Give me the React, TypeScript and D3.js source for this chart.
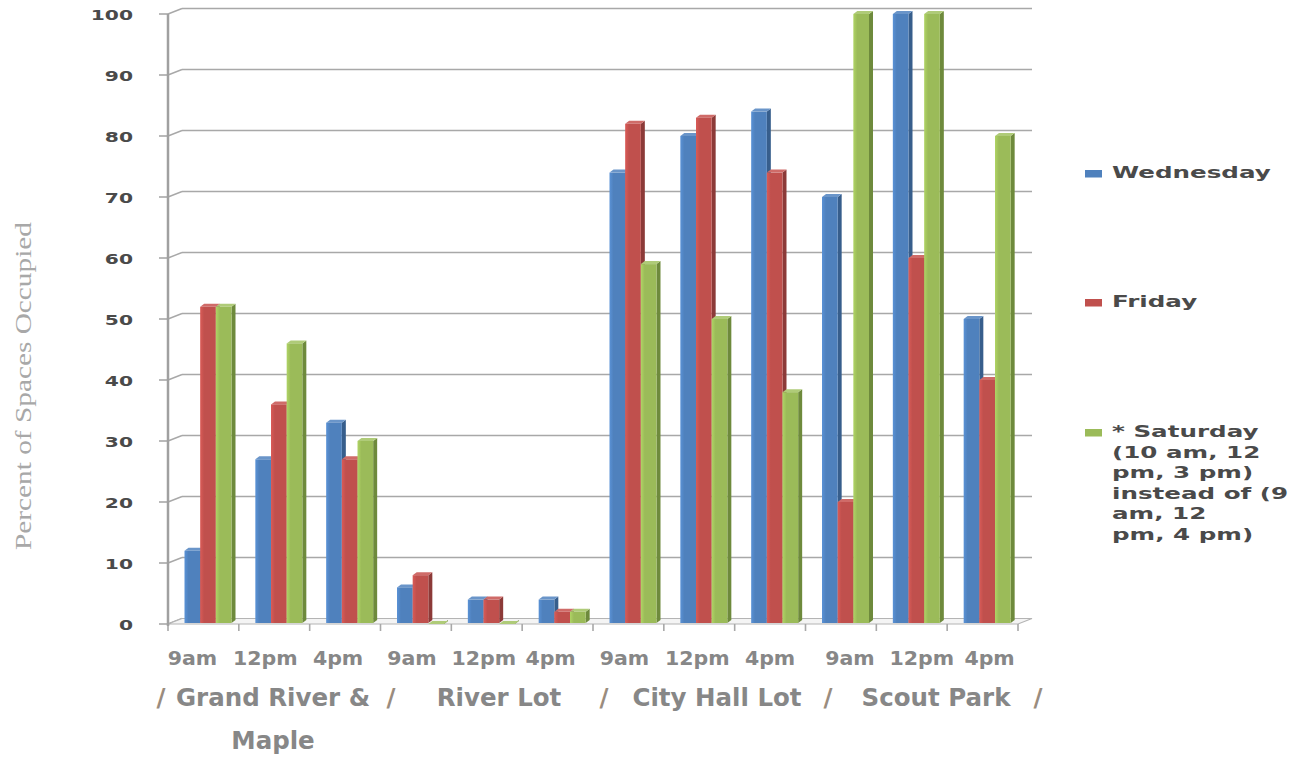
import React from "react";
import * as d3 from "d3";

// ---- data ----
const timeLabels = ["9am", "12pm", "4pm", "9am", "12pm", "4pm", "9am", "12pm", "4pm", "9am", "12pm", "4pm"];
const seriesNames = ["Wednesday", "Friday", "* Saturday (10 am, 12 pm, 3 pm) instead of (9 am, 12 pm, 4 pm)"];
const wednesday = [12, 27, 33, 6, 4, 4, 74, 80, 84, 70, 100, 50];
const friday = [52, 36, 27, 8, 4, 2, 82, 83, 74, 20, 60, 40];
const saturday = [52, 46, 30, 0, 0, 2, 59, 50, 38, 100, 100, 80];
const yTicks = [0, 10, 20, 30, 40, 50, 60, 70, 80, 90, 100];
const locationLabels = ["Grand River &", "River Lot", "City Hall Lot", "Scout Park"];
const locationLine2 = ["Maple", "", "", ""];
const legendLines = [
  ["Wednesday"],
  ["Friday"],
  ["* Saturday", "(10 am, 12", "pm, 3 pm)", "instead of (9", "am, 12", "pm, 4 pm)"],
];

// ---- style / layout ----
const W = 1296, H = 758;
const X0 = 168, X1 = 1018, Y0 = 624, Y1 = 14;
const DX = 14, DY = 5.5; // back-wall offset
const BDX = 4, BDY = 3; // bar depth
const front = ["#4F81BD", "#C0504D", "#9BBB59"];
const side = ["#375E8C", "#8C3A38", "#6E8A3C"];
const topC = ["#6A95C9", "#CF6B68", "#AFCB78"];
const locX = [273, 499, 717, 936];
const slashX = [161, 391, 604, 828, 1038];
// horizontal shift of each time label from its category centre (typed text box)
const timeShift = [-11, -9, -7, -4, -3, -7, -4, -2, 0, 9, 10, 7];

export default function App() {
  const series = [wednesday, friday, saturday];
  const idx = d3.range(timeLabels.length);
  const x0 = d3.scaleBand<number>().domain(idx).range([X0, X1]).padding(0);
  const x1 = d3.scaleBand<number>().domain([0, 1, 2]).range([16.5, 63.5]).padding(0);
  const y = d3.scaleLinear().domain([0, 100]).range([Y0, Y1]);
  const bw = x1.bandwidth();

  const bars: React.ReactNode[] = [];
  idx.forEach((i) => {
    series.forEach((s, k) => {
      const x = (x0(i) as number) + (x1(k) as number);
      const yt = y(s[i]);
      const yb = Y0 - 1;
      const sidePts = `${x + bw},${yt} ${x + bw + BDX},${yt - BDY} ${x + bw + BDX},${yb - BDY} ${x + bw},${yb}`;
      const topPts = `${x},${yt} ${x + BDX},${yt - BDY} ${x + bw + BDX},${yt - BDY} ${x + bw},${yt}`;
      bars.push(
        <g key={`b${i}-${k}`}>
          <polygon points={sidePts} fill={side[k]} />
          <polygon points={topPts} fill={topC[k]} />
          <rect x={x} y={yt} width={bw} height={Math.max(0, yb - yt)} fill={`url(#grad${k})`} />
        </g>
      );
    });
  });

  const gridColor = "#A8A8A8";
  const labelColor = "#878787";

  return (
    <svg width={W} height={H} style={{ position: "absolute", left: 0, top: 0, background: "#fff" }}>
      <defs>
        {front.map((c, k) => (
          <linearGradient key={k} id={`grad${k}`} x1="0" x2="1" y1="0" y2="0">
            <stop offset="0" stopColor={d3.color(c)!.brighter(0.35).formatHex()} />
            <stop offset="0.25" stopColor={c} />
            <stop offset="1" stopColor={c} />
          </linearGradient>
        ))}
      </defs>

      {/* gridlines on back wall */}
      {yTicks.map((t) => (
        <g key={`g${t}`}>
          {t > 0 && (
            <line x1={X0 + DX} x2={X1 + DX} y1={y(t) - DY} y2={y(t) - DY} stroke={gridColor} strokeWidth={1.6} />
          )}
          <line x1={X0} x2={X0 + DX} y1={y(t)} y2={y(t) - DY} stroke={gridColor} strokeWidth={1.4} />
          <line x1={X0 - 9} x2={X0} y1={y(t)} y2={y(t)} stroke={gridColor} strokeWidth={1.6} />
        </g>
      ))}

      {/* floor */}
      <polygon
        points={`${X0},${Y0} ${X1},${Y0} ${X1 + DX},${Y0 - DY} ${X0 + DX},${Y0 - DY}`}
        fill="#F4F4F4"
        stroke="#B4B4B4"
        strokeWidth={1.2}
      />

      {/* x ticks */}
      {d3.range(timeLabels.length + 1).map((i) => {
        const xx = X0 + i * x0.step();
        return <line key={`xt${i}`} x1={xx} x2={xx} y1={Y0} y2={Y0 + 7} stroke={gridColor} strokeWidth={1.6} />;
      })}

      {/* y axis */}
      <line x1={X0} x2={X0} y1={Y1} y2={Y0 + 2} stroke="#A0A0A0" strokeWidth={2.5} />

      {bars}

      {/* y tick labels */}
      {yTicks.map((t) => (
        <text
          key={`yl${t}`}
          transform={`translate(133,${y(t) + 1}) scale(1.5,1)`}
          textAnchor="end"
          dominantBaseline="central"
          fontFamily="DejaVu Sans"
          fontWeight="bold"
          fontSize={13.5}
          fill="#4A4A4A"
        >
          {t}
        </text>
      ))}

      {/* y axis title */}
      <text
        transform={`translate(31,386) rotate(-90)`}
        textAnchor="middle"
        fontFamily="Liberation Serif"
        fontSize={23}
        fill="#A8A8A8"
        textLength={328}
        lengthAdjust="spacingAndGlyphs"
      >
        Percent of Spaces Occupied
      </text>

      {/* time labels */}
      {idx.map((i) => (
        <text
          key={`tl${i}`}
          transform={`translate(${(x0(i) as number) + x0.bandwidth() / 2 + timeShift[i]},665) scale(1.08,1)`}
          textAnchor="middle"
          fontFamily="DejaVu Sans"
          fontWeight="bold"
          fontSize={19}
          fill={labelColor}
        >
          {timeLabels[i]}
        </text>
      ))}

      {/* location labels */}
      {locationLabels.map((l, j) => (
        <text
          key={`loc${j}`}
          x={locX[j]}
          y={706}
          textAnchor="middle"
          fontFamily="DejaVu Sans"
          fontWeight="bold"
          fontSize={24.5}
          fill={labelColor}
        >
          {l}
        </text>
      ))}
      {locationLine2.map((l, j) =>
        l ? (
          <text
            key={`loc2${j}`}
            x={locX[j]}
            y={749}
            textAnchor="middle"
            fontFamily="DejaVu Sans"
            fontWeight="bold"
            fontSize={24.5}
            fill={labelColor}
          >
            {l}
          </text>
        ) : null
      )}
      {slashX.map((sx, j) => (
        <text
          key={`sl${j}`}
          x={sx}
          y={706}
          textAnchor="middle"
          fontFamily="DejaVu Sans"
          fontWeight="bold"
          fontSize={24.5}
          fill="#9A8C7E"
        >
          /
        </text>
      ))}

      {/* legend */}
      {seriesNames.map((name, k) => {
        const baseY = [178, 307, 437][k];
        return (
          <g key={`lg${k}`} aria-label={name}>
            <rect x={1085} y={baseY - 8} width={17} height={7.5} fill={front[k]} />
            {legendLines[k].map((ln, m) => (
              <text
                key={m}
                transform={`translate(1112,${baseY + m * 20.6}) scale(1.64,1)`}
                fontFamily="DejaVu Sans"
                fontWeight="bold"
                fontSize={15}
                fill="#4A4A4A"
              >
                {ln}
              </text>
            ))}
          </g>
        );
      })}
    </svg>
  );
}
